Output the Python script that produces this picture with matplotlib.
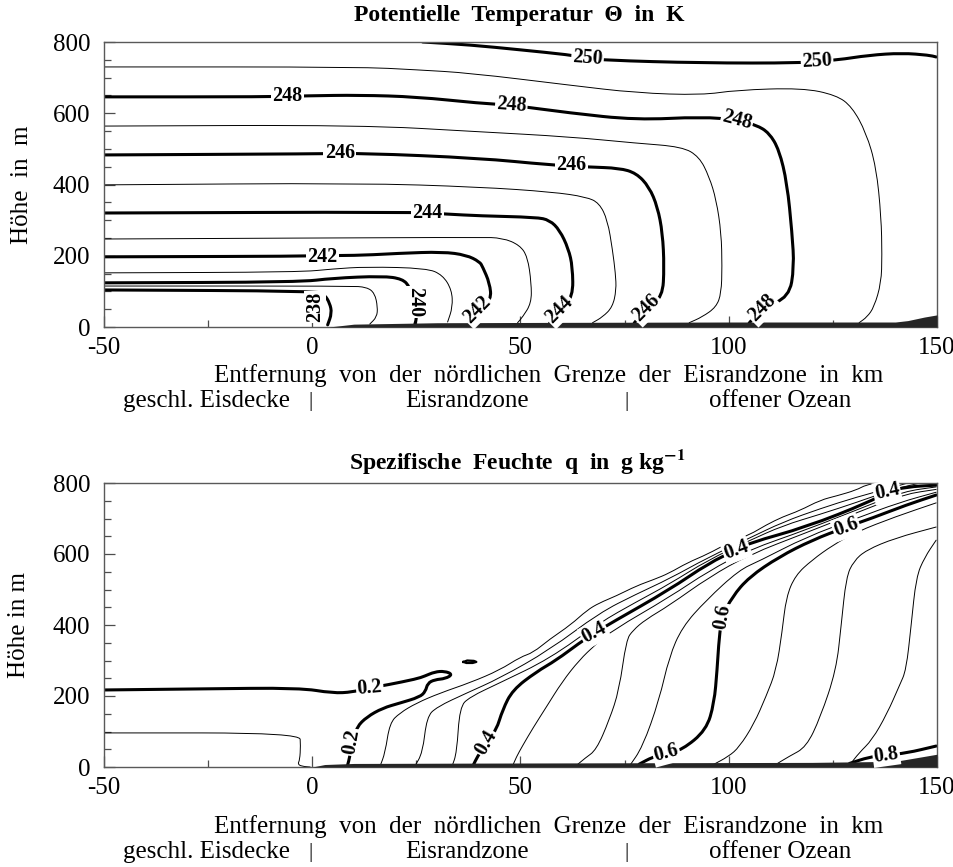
import numpy as np
import matplotlib.pyplot as plt
from matplotlib.path import Path
from matplotlib.patches import PathPatch
from matplotlib.ticker import MultipleLocator

plt.rcParams['font.family'] = ['Liberation Serif', 'DejaVu Serif']
plt.rcParams['mathtext.fontset'] = 'stix'

# ---------------- potential temperature (K), isolines as (km, m) ----------------
th238 = [(-50, 104), (1.1, 101), (3.0, 90), (4.2, 67), (4.7, 39), (3.7, 6)]
th239 = [(-50, 115), (9.0, 115), (13.1, 112), (15.0, 95), (15.7, 56), (15.5, 28), (13.8, 8)]
th240 = [(-50, 124), (-3, 126), (4.9, 137), (16.9, 143), (21.7, 135), (23.4, 112),
         (24.6, 70), (25.1, 28), (24.6, 6)]
th241 = [(-50, 152), (-3, 154), (4.9, 163), (13.1, 169), (27.5, 165), (31.3, 146),
         (33.5, 104), (33.7, 56), (32.5, 14)]
th242 = [(-50, 197), (8.3, 199), (21.0, 207), (31.3, 211), (37.0, 202), (40.2, 183),
         (40.9, 169), (42.6, 123), (43.0, 76), (39.7, 48), (37.8, 11)]
th243 = [(-50, 247), (40.2, 252), (45.7, 250), (49.8, 230), (51.7, 197), (52.6, 123),
         (52.6, 67), (50.5, 28), (49.3, 12)]
th244 = [(-50, 320), (23.4, 323), (32.3, 317), (40.2, 312), (53.8, 308), (57.0, 300),
         (59.4, 272), (61.5, 220), (62.5, 169), (62.6, 84), (59.4, 48), (57.0, 11)]
th245 = [(-50, 399), (11.4, 404), (40.2, 393), (57.7, 379), (65.8, 365), (68.9, 348),
         (70.9, 300), (72.1, 216), (72.8, 150), (73.0, 104), (72.1, 56), (69.7, 28), (67.3, 12)]
th246 = [(-50, 483), (1.1, 486), (12.1, 488), (40.2, 474), (57.0, 455), (66.5, 449),
         (73.7, 446), (77.8, 432), (80.9, 393), (82.9, 337), (84.1, 264), (84.5, 169),
         (84.1, 84), (80.2, 53), (77.3, 11)]
th247 = [(-50, 564), (11.4, 567), (40.2, 548), (61.7, 534), (77.8, 516), (88.8, 506),
         (92.9, 478), (95.3, 422), (97.0, 357), (98.2, 264), (98.4, 169), (98.2, 95),
         (97.0, 56), (93.6, 28), (90.5, 12)]
th248 = [(-50, 646), (-10.9, 646), (-1.3, 649), (11.4, 651), (25.1, 646), (40.2, 628),
         (47.8, 623), (61.7, 601), (77.8, 581), (93.6, 590), (102.0, 581), (106.6, 567),
         (109.7, 545), (112.1, 497), (114.0, 404), (115.2, 264), (115.7, 168), (114.5, 84),
         (108.0, 53), (104.9, 11)]
th249 = [(-50, 730), (11.4, 730), (25.0, 722), (37.8, 713), (61.7, 679), (77.8, 657),
         (93.6, 651), (101.8, 665), (117.6, 671), (125.8, 651), (129.6, 618), (133.0, 545),
         (135.4, 449), (136.6, 309), (136.8, 200), (136.6, 124), (134.9, 56), (133.2, 28),
         (131.3, 12)]
th250 = [(26.5, 800), (37.8, 792), (50.0, 778), (61.7, 764), (66.1, 755), (69.7, 749),
         (93.6, 741), (117.6, 741), (121.2, 747), (125.8, 749), (133.7, 763), (141.6, 769),
         (148.1, 763), (149.8, 758)]

theta_levels = [238, 239, 240, 241, 242, 243, 244, 245, 246, 247, 248, 249, 250]
theta_lines = [th238, th239, th240, th241, th242, th243, th244, th245, th246, th247,
               th248, th249, th250]

# label text, x, z, rotation
theta_labels = [("250", 66.1, 755, -4), ("250", 121.2, 747, 3),
                ("248", -5.9, 649, 0), ("248", 47.8, 623, -4), ("248", 102.0, 581, -15),
                ("248", 108.0, 53, 45),
                ("246", 6.6, 488, 0), ("246", 62.2, 455, 0), ("246", 80.2, 53, 45),
                ("244", 27.7, 320, 0), ("244", 59.4, 48, 45),
                ("242", 2.5, 197, 0), ("242", 39.7, 48, 45),
                ("240", 24.6, 70, -90), ("238", 0.6, 56, 90)]

# dense surface layer
theta_band_x = [4, 10, 30, 60, 100, 140, 143, 147, 150]
theta_band_z = [0, 8, 12, 13, 14, 14, 18, 28, 34]

# ---------------- specific humidity (g/kg) ----------------
q_box = [(-50, 96), (-3.0, 96), (-2.8, 60), (-3.0, 20), (-3.5, 8), (-2.5, 2), (-0.5, 0)]
q020 = [(-50, 217), (-27, 220), (-3, 223), (4.9, 208), (9.7, 211), (13.8, 223),
        (17.9, 231), (25.0, 248), (27.0, 256), (29.4, 268), (31.8, 270), (33.7, 261),
        (32.0, 249), (29.4, 246), (27.7, 236), (27.2, 213), (25.8, 197), (21.0, 180),
        (16.9, 166), (13.1, 141), (10.7, 113), (9.5, 70), (9.0, 28), (8.5, 6)]
q020_blob = [(36.3, 296), (37.2, 300), (38.8, 299), (39.4, 296), (38.5, 293),
             (37.0, 293), (36.3, 296)]
q025 = [(16.2, 0), (17.5, 40), (18.6, 124), (21.0, 152), (25.0, 180), (30.6, 208),
        (38.0, 238), (45.0, 273), (50.0, 310), (53.0, 322), (57.0, 360), (62.0, 400),
        (66.0, 442), (68.9, 462), (73.0, 482), (77.8, 510), (82.0, 528), (85.7, 546),
        (90.0, 575), (95.0, 600), (100.0, 632), (105.0, 654), (109.0, 682), (113.0, 705),
        (117.0, 722), (122.0, 752), (126.0, 764), (130.6, 780), (133.0, 795), (136.0, 800)]
q030 = [(24.5, 0), (26.5, 40), (27.5, 141), (29.9, 169), (37.0, 208), (45.0, 250),
        (57.0, 330), (68.9, 434), (77.8, 487), (85.7, 530), (95.0, 590), (105.0, 645),
        (113.0, 690), (122.0, 728), (130.6, 760), (140.0, 790), (143.0, 800)]
q035 = [(33.5, 0), (34.7, 40), (35.4, 169), (37.8, 197), (45.0, 237), (57.0, 305),
        (68.9, 406), (77.8, 465), (85.7, 515), (95.0, 583), (105.0, 638), (113.0, 680),
        (122.0, 712), (130.6, 745), (140.0, 784), (146.0, 800)]
q040 = [(38.7, 6), (39.6, 28), (41.8, 68), (44.2, 104), (45.7, 161), (48.1, 217),
        (53.8, 268), (58.6, 301), (64.1, 349), (67.7, 377), (72.1, 408), (85.7, 499),
        (95.3, 575), (101.8, 611), (104.9, 631), (118.6, 676), (133.7, 746), (138.0, 775),
        (142.6, 789), (149.8, 794)]
q045 = [(48.0, 0), (49.0, 28), (50.5, 60), (53.0, 110), (56.2, 169), (60.0, 240),
        (64.1, 301), (68.0, 345), (72.1, 385), (85.7, 478), (95.3, 553), (104.9, 612),
        (118.6, 668), (133.7, 738), (142.0, 776), (149.8, 789)]
q050 = [(63.0, 0), (65.5, 25), (68.2, 48), (71.3, 132), (73.7, 217), (75.4, 358),
        (77.0, 385), (80.0, 415), (85.7, 455), (95.3, 535), (104.9, 598), (118.6, 660),
        (133.7, 730), (142.0, 768), (149.8, 782)]
q055 = [(76.0, 0), (79.3, 56), (83.3, 189), (85.7, 310), (88.8, 394), (94.6, 470),
        (102.5, 555), (107.3, 580), (118.6, 648), (130.6, 700), (140.9, 745), (149.8, 774)]
q060 = [(78.5, 8), (81.7, 28), (85.0, 39), (88.8, 48), (94.6, 104), (96.5, 180),
        (97.2, 273), (97.7, 366), (98.4, 423), (100.8, 479), (104.9, 535), (112.1, 592),
        (120.0, 639), (128.2, 676), (134.4, 701), (142.6, 738), (149.8, 766)]
q065 = [(96.0, 5), (100.0, 30), (102.5, 56), (106.0, 120), (109.0, 200), (111.4, 273),
        (112.8, 380), (113.8, 479), (116.0, 540), (120.0, 583), (125.0, 625), (130.6, 662),
        (140.0, 705), (149.8, 744)]
q070 = [(111.0, 5), (114.5, 30), (118.6, 56), (122.0, 140), (125.8, 273), (127.0, 400),
        (128.2, 535), (130.0, 580), (133.0, 611), (140.0, 645), (149.8, 676)]
q075 = [(129.0, 5), (131.3, 40), (134.4, 76), (138.0, 150), (141.0, 230), (142.6, 273),
        (143.8, 400), (145.0, 535), (147.0, 590), (149.8, 639)]
q080 = [(129.0, 10), (133.7, 28), (137.8, 34), (142.6, 39), (149.8, 59)]

q_thin = [q_box, q025, q030, q035, q045, q050, q055, q065, q070, q075]
q_thick = [q020, q040, q060, q080]

q_labels = [("0.2", 13.8, 223, 5), ("0.2", 9.5, 70, 80),
            ("0.4", 41.8, 68, 60), ("0.4", 67.7, 377, 28), ("0.4", 101.8, 611, 20),
            ("0.4", 138.0, 775, 12),
            ("0.6", 85.0, 39, 15), ("0.6", 98.4, 423, 80), ("0.6", 128.2, 676, 20),
            ("0.8", 137.8, 34, 8)]

q_band_x = [0, 3, 10, 40, 80, 120, 140, 144, 150]
q_band_z = [0, 7, 10, 11, 12, 13, 16, 24, 36]


W, H = 954, 867
fig = plt.figure(figsize=(W / 100, H / 100), dpi=100)


def frac(px, py):
    return px / W, 1 - py / H


def setup(ax):
    ax.set_xlim(-50, 150)
    ax.set_ylim(0, 800)
    ax.set_xticks([-50, 0, 50, 100, 150])
    ax.set_xticklabels(['-50', '0', '50', '100', '150'])
    ax.set_yticks([0, 200, 400, 600, 800])
    ax.xaxis.set_minor_locator(MultipleLocator(25))
    ax.yaxis.set_minor_locator(MultipleLocator(50))
    ax.tick_params(which='both', direction='in', labelsize=18, color='0.3')
    ax.tick_params(axis='x', pad=7)
    ax.tick_params(axis='y', pad=10)
    ax.tick_params(which='major', length=8, width=0.9)
    ax.tick_params(which='minor', length=5, width=0.9)
    for s in ax.spines.values():
        s.set_color('0.35')
        s.set_linewidth(1.0)


def draw_path(ax, pts, lw):
    # quadratic spline through the midpoints, read points act as control points
    p = np.array(pts, dtype=float)
    if len(p) < 3:
        verts, codes = list(p), [Path.MOVETO, Path.LINETO]
    else:
        mids = (p[:-1] + p[1:]) / 2
        verts = [p[0], mids[0]]
        codes = [Path.MOVETO, Path.LINETO]
        for i in range(1, len(p) - 1):
            verts += [p[i], mids[i]]
            codes += [Path.CURVE3, Path.CURVE3]
        verts.append(p[-1])
        codes.append(Path.LINETO)
    ax.add_patch(PathPatch(Path(verts, codes), fc='none', ec='k', lw=lw,
                           joinstyle='round', capstyle='round', zorder=2))


def draw_labels(ax, labels):
    for s, x, z, r in labels:
        ax.text(x, z, s, rotation=r, rotation_mode='anchor', ha='center', va='center',
                fontsize=14.5, fontweight='bold', zorder=6,
                bbox=dict(boxstyle='square,pad=0.06', fc='white', ec='none'))


# top panel
ax1 = fig.add_axes([104 / W, 1 - 327 / H, 833 / W, 285 / H])
setup(ax1)
for lev, pts in zip(theta_levels, theta_lines):
    draw_path(ax1, pts, 2.2 if lev % 2 == 0 else 0.7)
ax1.fill_between(theta_band_x, 0, theta_band_z, color='0.15', lw=0, zorder=3)
draw_labels(ax1, theta_labels)

# bottom panel
ax2 = fig.add_axes([104 / W, 1 - 767 / H, 833 / W, 284 / H])
setup(ax2)
for pts in q_thin:
    draw_path(ax2, pts, 0.7)
for pts in q_thick:
    draw_path(ax2, pts, 2.2)
blob = np.array(q020_blob)
ax2.plot(blob[:, 0], blob[:, 1], color='k', lw=1.6, zorder=2)
ax2.fill_between(q_band_x, 0, q_band_z, color='0.15', lw=0, zorder=3)
draw_labels(ax2, q_labels)

# titles, axis labels and zone captions
fig.text(*frac(519, 15), 'Potentielle  Temperatur  Θ  in  K', ha='center',
         va='center', fontsize=17, fontweight='bold')
fig.text(*frac(517, 462), r'Spezifische  Feuchte  q  in  g kg$^{\mathbf{-1}}$', ha='center',
         va='center', fontsize=17, fontweight='bold')
fig.text(*frac(22, 185), 'Höhe  in  m', rotation=90, ha='center', va='center', fontsize=18)
fig.text(*frac(19, 625), 'Höhe in m', rotation=90, ha='center', va='center', fontsize=18)

xlab = 'Entfernung  von  der  nördlichen  Grenze  der  Eisrandzone  in  km'
for y_lab, y_zone in [(376, 401), (827, 852)]:
    fig.text(*frac(549, y_lab), xlab, ha='center', va='center', fontsize=18)
    fig.text(*frac(207, y_zone), 'geschl. Eisdecke', ha='center', va='center', fontsize=18)
    fig.text(*frac(311, y_zone), '|', ha='center', va='center', fontsize=15)
    fig.text(*frac(467, y_zone), 'Eisrandzone', ha='center', va='center', fontsize=18)
    fig.text(*frac(627, y_zone), '|', ha='center', va='center', fontsize=15)
    fig.text(*frac(780, y_zone), 'offener Ozean', ha='center', va='center', fontsize=18)

fig.savefig('out.png', dpi=100)
